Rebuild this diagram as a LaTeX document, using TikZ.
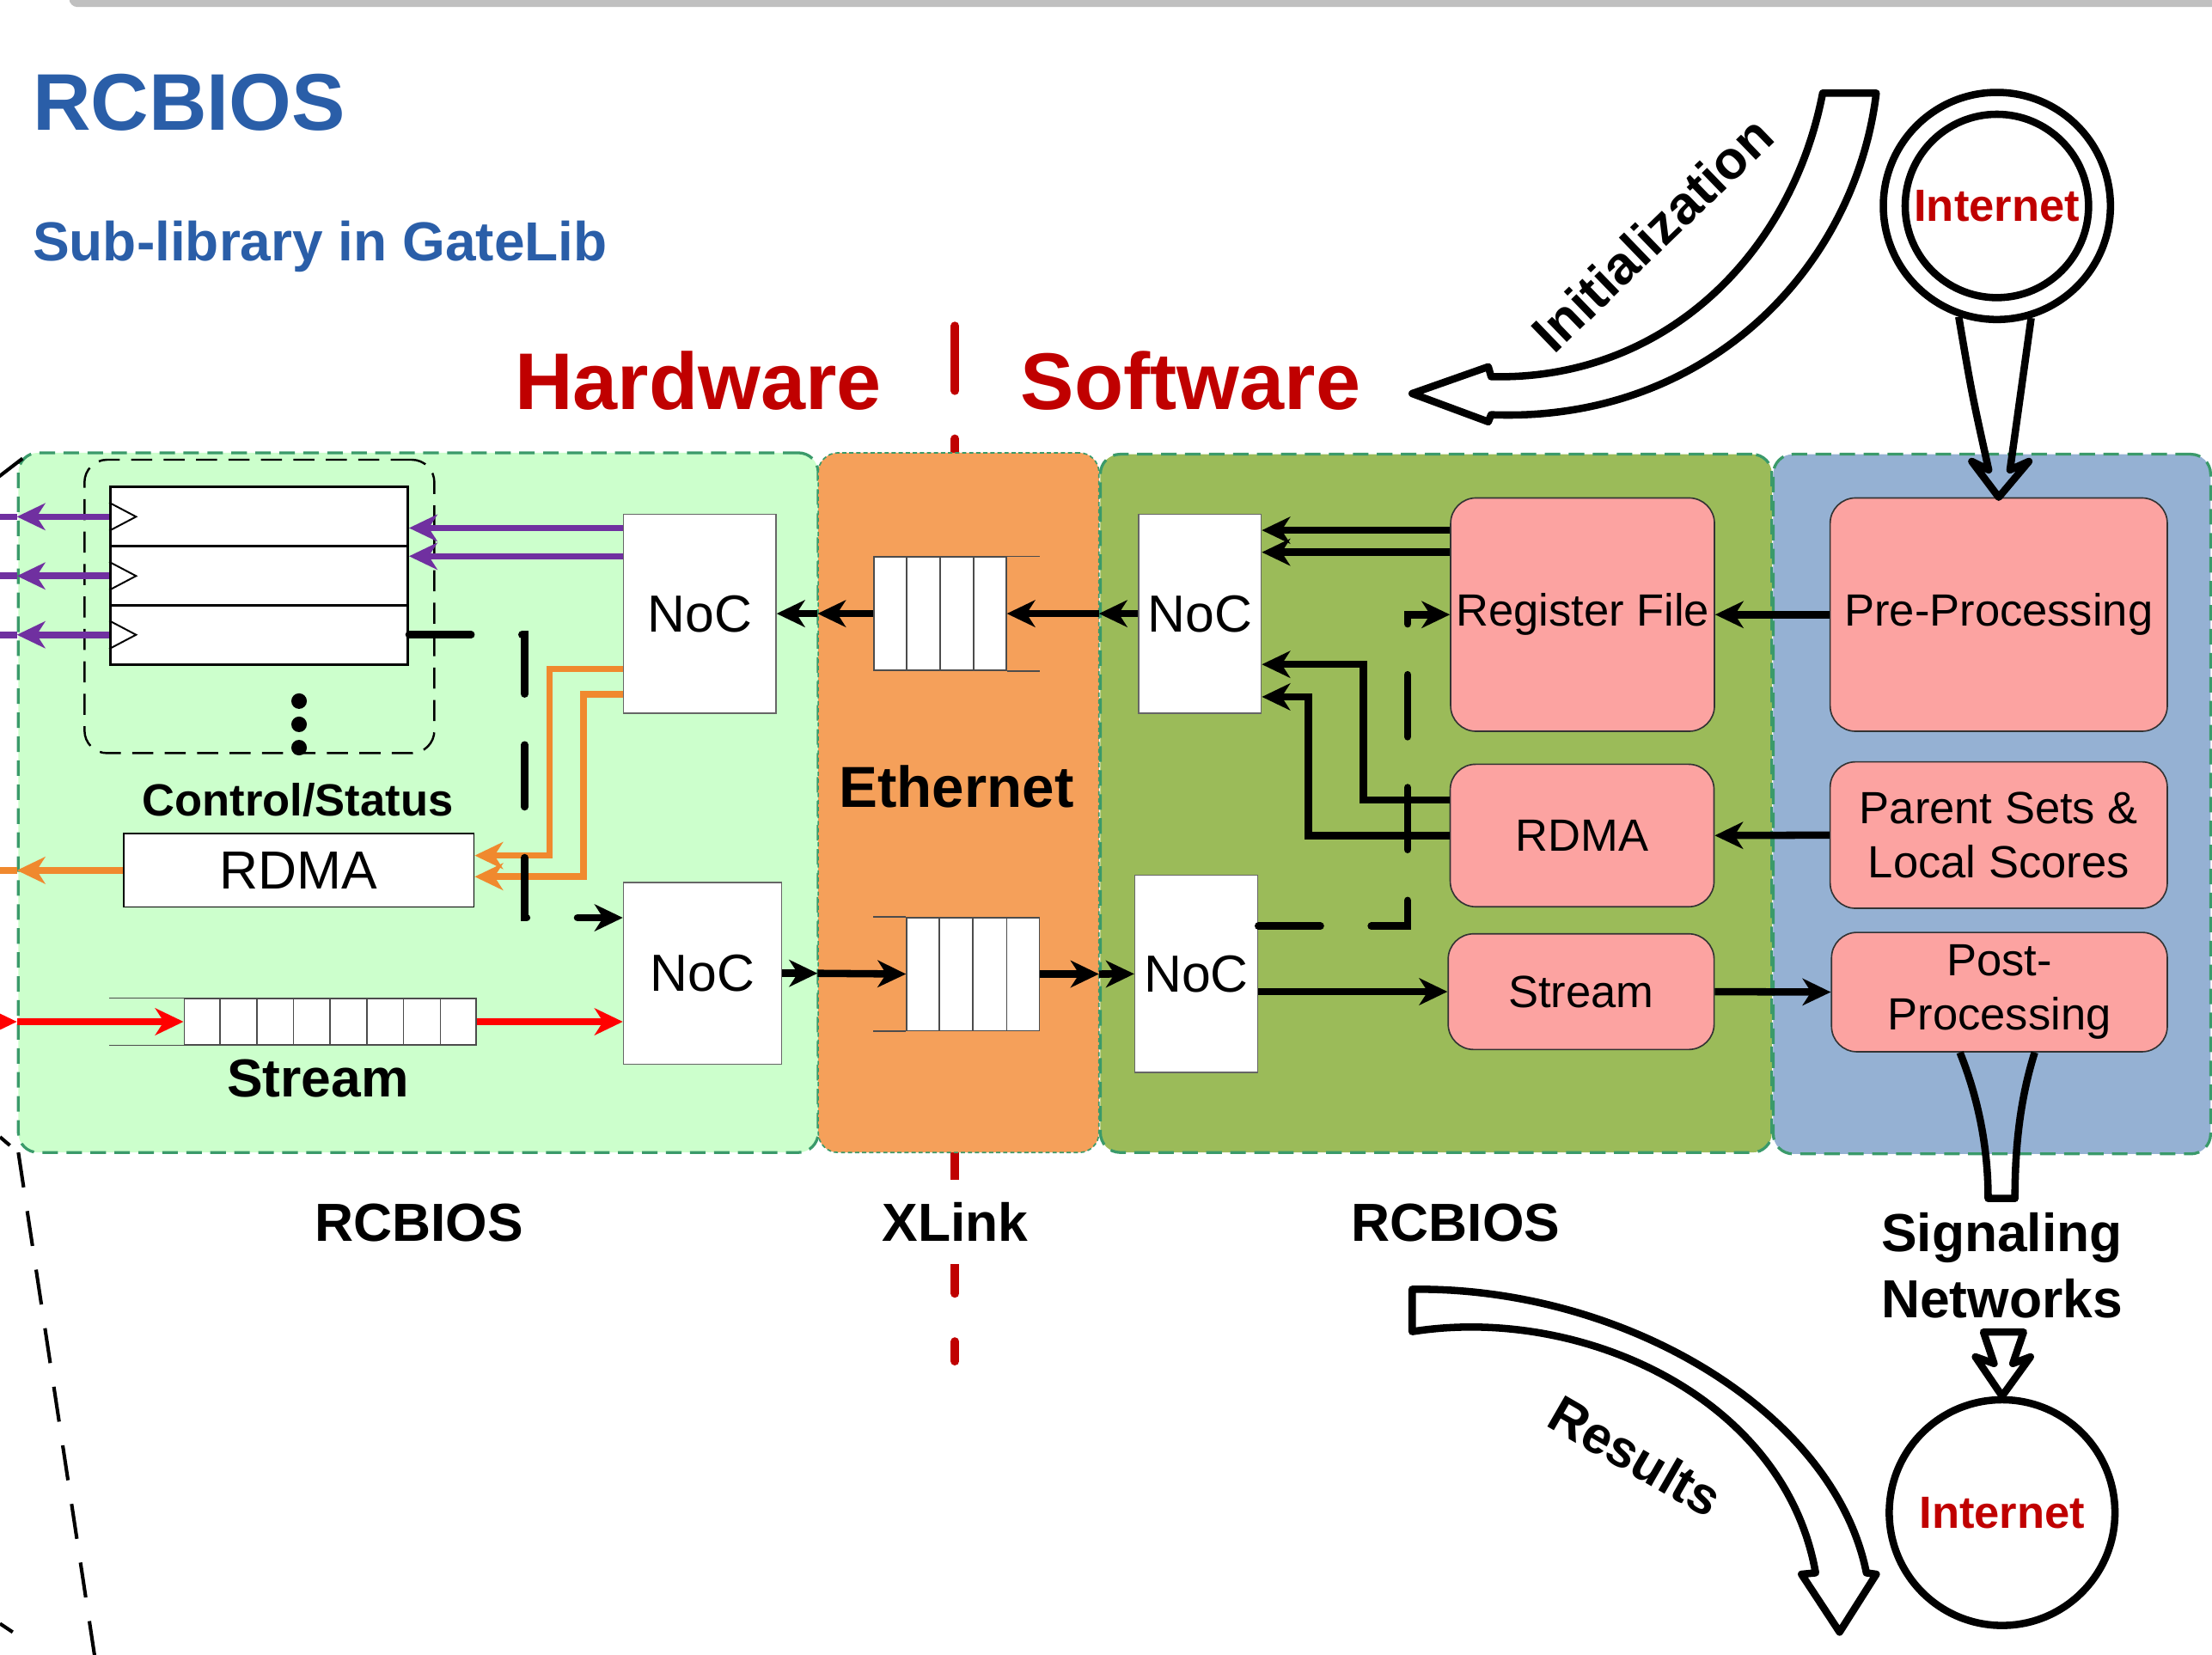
\documentclass[tikz,border=0pt]{standalone}
\usepackage{fontspec}
\setmainfont{Liberation Sans}
\usepackage{tikz}
\usetikzlibrary{arrows.meta,positioning,calc,shapes.geometric}
\definecolor{TitleBlue}{HTML}{2A5EA8}
\definecolor{LabelRed}{HTML}{C00000}
\definecolor{HwGreen}{HTML}{CCFFCC}
\definecolor{EthOrange}{HTML}{F5A05A}
\definecolor{SwGreen}{HTML}{9BBB59}
\definecolor{HostBlue}{HTML}{95B1D3}
\definecolor{TaskPink}{HTML}{FCA3A1}
\definecolor{EdgeGreen}{HTML}{3A9A6A}
\definecolor{DmaOrange}{HTML}{F0892E}
\definecolor{RegPurple}{HTML}{7030A0}
\definecolor{StreamRed}{HTML}{FF0000}
\definecolor{BarGray}{HTML}{C0C0C0}
\newcommand{\setfs}[2]{\fontsize{#1}{#2}\selectfont}

\begin{document}
\begin{tikzpicture}[
  x=1pt, y=-1pt,
  % block panels (dashed green rim)
  panel/.style={draw=EdgeGreen, line width=2pt, dash pattern=on 11pt off 6pt,
                rounded corners=14pt, inner sep=0pt},
  % white boxes: NoC, register rows, FIFO cells, RDMA
  noc/.style={draw=black!60, fill=white, line width=1pt, inner sep=0pt,
              font=\setfs{37}{40}},
  plain/.style={draw=black, fill=white, line width=1pt, inner sep=0pt},
  cell/.style={draw=black!70, line width=1pt},
  % software task box (pink, rounded)
  task/.style={draw=black!80, fill=TaskPink, line width=1pt, rounded corners=18pt,
               align=center, inner sep=0pt, font=\setfs{32}{38.5}},
  % labels
  lbl/.style={inner sep=0pt, font=\setfs{38}{47}\bfseries, align=center},
  % arrows
  arr/.style={-{Stealth[length=20pt,width=19pt,inset=6pt]}, line width=5.2pt},
  darr/.style={arr, line cap=round, dash pattern=on 44pt off 36pt},
  parr/.style={arr, draw=RegPurple, line width=4.6pt},
  oarr/.style={arr, draw=DmaOrange, line width=4.6pt},
  rarr/.style={arr, draw=StreamRed, line width=4.6pt},
  hollow/.style={draw=black, line width=5.2pt, line join=round},
  divider/.style={draw=LabelRed, line width=6pt, line cap=round,
                  dash pattern=on 46pt off 34pt},
  callout/.style={draw=black, line width=2.5pt},
]
\useasboundingbox (0,0) rectangle (1568,1173);

%% ── Data path rows ───────────────────────────────────────────────────────
\def\yup{435}   % upper path (towards hardware)
\def\ylow{690}  % lower path (towards software)

%% ── Top bar and titles ───────────────────────────────────────────────────
\fill[BarGray, rounded corners=6pt] (49,-20) rectangle (1600,5);
\node[inner sep=0pt, anchor=base west, text=TitleBlue, font=\setfs{57}{60}\bfseries]
  (title) at (23,92) {RCBIOS};
\node[inner sep=0pt, anchor=base west, text=TitleBlue, font=\setfs{39}{42}\bfseries]
  (subtitle) at (23,185) {Sub-library in GateLib};

%% ── Hardware / Software split ────────────────────────────────────────────
\draw[divider] (677,231) -- (677,965);
\node[inner sep=0pt, anchor=base, text=LabelRed, font=\setfs{57}{60}\bfseries]
  (hwlbl) at (495,290) {Hardware};
\node[inner sep=0pt, anchor=base, text=LabelRed, font=\setfs{57}{60}\bfseries]
  (swlbl) at (844,290) {Software};

%% ── Panels ───────────────────────────────────────────────────────────────
\node[panel, fill=HwGreen, minimum width=567pt, minimum height=496pt] (hw) at (296.5,569) {};
\node[panel, fill=SwGreen, minimum width=476pt, minimum height=495pt] (sw) at (1018,569.5) {};
\node[panel, fill=HostBlue, minimum width=310pt, minimum height=496pt] (host) at (1412,570) {};
\node[panel, fill=EthOrange, line width=1pt, dash pattern=on 3pt off 2pt,
      minimum width=199pt, minimum height=496pt] (eth) at (679.5,569) {};

\node[lbl, anchor=base] (rcbH) at (297,880) {RCBIOS};
\node[lbl, anchor=base, fill=white, inner xsep=4pt, inner ysep=16pt] (xlink) at (677,880) {XLink};
\node[lbl, anchor=base] (rcbS) at (1032,880) {RCBIOS};
\node[lbl, anchor=base, font=\setfs{41}{44}\bfseries] (ethlbl) at (678,572) {Ethernet};

%% ── Hardware side ────────────────────────────────────────────────────────
\node[draw, line width=1.5pt, dash pattern=on 15pt off 8pt, rounded corners=16pt,
      minimum width=248pt, minimum height=208pt] (csBox) at (183.9,429.9) {};
\foreach \i/\y in {1/366.3, 2/408.3, 3/450}{
  \node[plain, line width=1.8pt, minimum width=210.7pt, minimum height=42pt] (reg\i) at (183.7,\y) {};
  \draw[line width=1.2pt] ($(reg\i.west)+(0,-10)$) -- ($(reg\i.west)+(19,0)$) -- ($(reg\i.west)+(0,10)$);
}
\foreach \y in {497,513.5,530}
  \fill (212,\y) circle[radius=5.5];
\node[inner sep=0pt, anchor=base, font=\setfs{32}{36}\bfseries] (cslbl) at (211,578.6) {Control/Status};
\node[plain, minimum width=248.4pt, minimum height=52pt, font=\setfs{38}{40}] (rdmaH) at (211.8,617) {RDMA};

\node[plain, draw=black!70, minimum width=207pt, minimum height=32.7pt] (fifoS) at (234.1,724.3) {};
\foreach \k in {1,...,7}
  \draw[cell] ($(fifoS.north west)!\k/8!(fifoS.north east)$) -- ($(fifoS.south west)!\k/8!(fifoS.south east)$);
\draw[cell] (fifoS.north west) -- ++(-52.6,0);
\draw[cell] (fifoS.south west) -- ++(-52.6,0);
\node[lbl, anchor=base] (strlbl) at (225.3,777.3) {Stream};

\node[noc, minimum width=108pt, minimum height=141pt] (nocA) at (496,\yup) {NoC};
\node[noc, minimum width=112pt, minimum height=129pt] (nocB) at (498,\ylow) {NoC};

%% ── Ethernet FIFOs ───────────────────────────────────────────────────────
\node[plain, draw=black!70, minimum width=93.8pt, minimum height=80.2pt] (fifoA) at (666.3,\yup) {};
\node[plain, draw=black!70, minimum width=94.1pt, minimum height=80.2pt] (fifoB) at (689.75,690.5) {};
\foreach \k in {1,2,3}{
  \draw[cell] ($(fifoA.north west)!\k/4!(fifoA.north east)$) -- ($(fifoA.south west)!\k/4!(fifoA.south east)$);
  \draw[cell] ($(fifoB.north west)!\k/4!(fifoB.north east)$) -- ($(fifoB.south west)!\k/4!(fifoB.south east)$);
}
\draw[cell] (fifoA.north east) -- ++(23.6,0);
\draw[cell] (fifoA.south east) -- ++(23.6,0);
\draw[cell] (fifoB.north west) -- ++(-23.3,0);
\draw[cell] (fifoB.south west) -- ++(-23.3,0);

%% ── Software side ────────────────────────────────────────────────────────
\node[noc, minimum width=87pt, minimum height=141pt] (nocC) at (850.5,\yup) {NoC};
\node[noc, minimum width=87pt, minimum height=140pt] (nocD) at (848,690.4) {NoC};
\node[task, minimum width=187pt, minimum height=165.4pt] (regF) at (1121.8,435.7) {Register File};
\node[task, minimum width=187pt, minimum height=101pt] (rdmaS) at (1121.5,592.3) {RDMA};
\node[task, minimum width=188.5pt, minimum height=82pt] (strS) at (1120.8,703) {Stream};

%% ── Host side ────────────────────────────────────────────────────────────
\node[task, minimum width=239pt, minimum height=165.4pt] (pre) at (1416.8,435.7) {Pre-Processing};
\node[task, minimum width=239pt, minimum height=103.8pt] (par) at (1416.8,592) {Parent Sets \&\\Local Scores};
\node[task, minimum width=238pt, minimum height=84.6pt] (post) at (1417.3,703.3) {Post-\\Processing};

%% ── Hardware connectors ──────────────────────────────────────────────────
\foreach \i in {1,2,3}{
  \draw[parr] (reg\i.west) -- (reg\i.west -| hw.west);
  \draw[RegPurple, line width=4.6pt] (reg\i.west -| hw.west) -- ++(-20,0);
}
\draw[oarr] (rdmaH.west) -- (rdmaH.west -| hw.west);
\draw[DmaOrange, line width=4.6pt] (rdmaH.west -| hw.west) -- ++(-20,0);
\draw[rarr] ($(hw.west |- fifoS.west)+(-30,0)$) -- (hw.west |- fifoS.west);
\draw[rarr] (hw.west |- fifoS.west) -- (fifoS.west);
\draw[rarr] (fifoS.east) -- (fifoS.east -| nocB.west);

\coordinate (pA) at ($(nocA.north west)+(0,10.3)$);
\coordinate (pB) at ($(nocA.north west)+(0,30.3)$);
\draw[parr] (pA) -- (pA -| reg1.east);
\draw[parr] (pB) -- (pB -| reg2.east);
\coordinate (oA) at ($(nocA.north west)+(0,110.3)$);
\coordinate (oB) at ($(nocA.north west)+(0,128.3)$);
\draw[oarr] (oA) -- ++(-52,0) |- ($(rdmaH.north east)+(0,16)$);
\draw[oarr] (oB) -- ++(-28,0) |- ($(rdmaH.north east)+(0,31)$);
\draw[darr] (reg3.east) -- ++(82,0) |- ($(nocB.north west)+(0,25.6)$);

%% ── Ethernet crossings ───────────────────────────────────────────────────
\draw[arr] (fifoA.west) -- (fifoA.west -| eth.west);
\draw[arr] (fifoA.west -| eth.west) -- (nocA.east);
\draw[arr] (nocC.west) -- (nocC.west -| sw.west);
\draw[arr] (nocC.west -| sw.west) -- (fifoA.east);
\draw[arr] (nocB.east) -- (nocB.east -| eth.west);
\draw[arr] (nocB.east -| eth.west) -- (fifoB.west);
\draw[arr] (fifoB.east) -- (fifoB.east -| sw.west);
\draw[arr] (fifoB.east -| sw.west) -- (nocD.west);

%% ── Software connectors ──────────────────────────────────────────────────
\coordinate (kA) at ($(regF.north west)+(0,23.4)$);
\coordinate (kB) at ($(regF.north west)+(0,39)$);
\draw[arr] (kA) -- (kA -| nocC.east);
\draw[arr] (kB) -- (kB -| nocC.east);
\coordinate (mA) at ($(rdmaS.north west)+(0,25.8)$);
\draw[arr] (mA) -- ++(-61,0) |- ($(nocC.north east)+(0,107)$);
\draw[arr] (rdmaS.west) -- ++(-100,0) |- ($(nocC.north east)+(0,130)$);
\coordinate (dk) at ($(regF.west)+(-30,0)$);
\draw[darr] ($(nocD.north east)+(0,36.6)$) -| (dk) -- (regF.west);
\draw[arr] (strS.west -| nocD.east) -- (strS.west);
\draw[arr] (pre.west) -- (regF.east);
\draw[arr] (par.west) -- (rdmaS.east);
\draw[arr] (strS.east) -- (post.west);

%% ── Internet in / out ────────────────────────────────────────────────────
\node[circle, draw, line width=5.2pt, fill=white, minimum size=161pt] (netRing) at (1415.5,146) {};
\node[circle, draw, line width=5.2pt, minimum size=130pt, inner sep=0pt,
      text=LabelRed, font=\setfs{32}{34}\bfseries] (netTop) at (1415.5,146) {Internet};
\draw[hollow] (netRing.251) .. controls ($(pre.north)+(-19,-73)$) .. ($(pre.north)+(-7.1,-19.4)$)
  -- ($(pre.north)+(-19.1,-25.4)$) -- (pre.north) -- ($(pre.north)+(21.4,-25.4)$)
  -- ($(pre.north)+(8,-19.4)$) .. controls ($(pre.north)+(15,-73)$) .. (netRing.287);

\node[lbl, anchor=north] (sig) at (1419,859.5) {Signaling\\Networks};
\draw[hollow] ($(post.south)+(-28,0)$) .. controls ($(post.south)+(-14,35)$) and ($(post.south)+(-8,70)$)
  .. ($(post.south)+(-8,103.5)$) -- ($(post.south)+(11,103.5)$)
  .. controls ($(post.south)+(11,70)$) and ($(post.south)+(14,35)$) .. ($(post.south)+(25,0)$);

\node[circle, draw, line width=5.2pt, minimum size=160pt, inner sep=0pt,
      text=LabelRed, font=\setfs{32}{34}\bfseries] (netBot) at (1419.2,1072.3) {Internet};
\draw[hollow] ($(netBot.north)+(-13.2,-45.4)$) -- ($(netBot.north)+(15.2,-45.4)$)
  -- ($(netBot.north)+(7.6,-23.1)$) -- ($(netBot.north)+(20.1,-27.8)$) -- (netBot.north)
  -- ($(netBot.north)+(-18.9,-27.8)$) -- ($(netBot.north)+(-5.7,-23.1)$) -- cycle;

%% ── Initialization / Results block arrows ────────────────────────────────
\draw[hollow] (1292,66) -- (1330,66) .. controls (1315,190) and (1210,300) .. (1057,294)
  -- (1055,299) -- (1001,279) -- (1055,260) -- (1057,267)
  .. controls (1180,270) and (1270,180) .. (1292,66) -- cycle;
\node[inner sep=0pt, rotate=44, font=\setfs{38}{40}\bfseries] (initlbl) at (1171,166) {Initialization};

\draw[hollow] (1001,914) .. controls (1150,912) and (1300,1000) .. (1323,1115)
  -- (1330,1116) -- (1304,1157) -- (1277,1116) -- (1287,1115)
  .. controls (1265,990) and (1120,925) .. (1001,944) -- cycle;
\node[inner sep=0pt, rotate=-30, font=\setfs{37}{40}\bfseries] (reslbl) at (1159.4,1032) {Results};

%% ── Callout lines at the left edge ───────────────────────────────────────
\draw[callout] (-10,345) -- (16,325);
\draw[callout] (0,806) -- (7,812);
\draw[callout, dash pattern=on 25pt off 17pt] (13,817) -- (68,1180);
\draw[callout] (0,1151) -- (9,1157);

\end{tikzpicture}
\end{document}
